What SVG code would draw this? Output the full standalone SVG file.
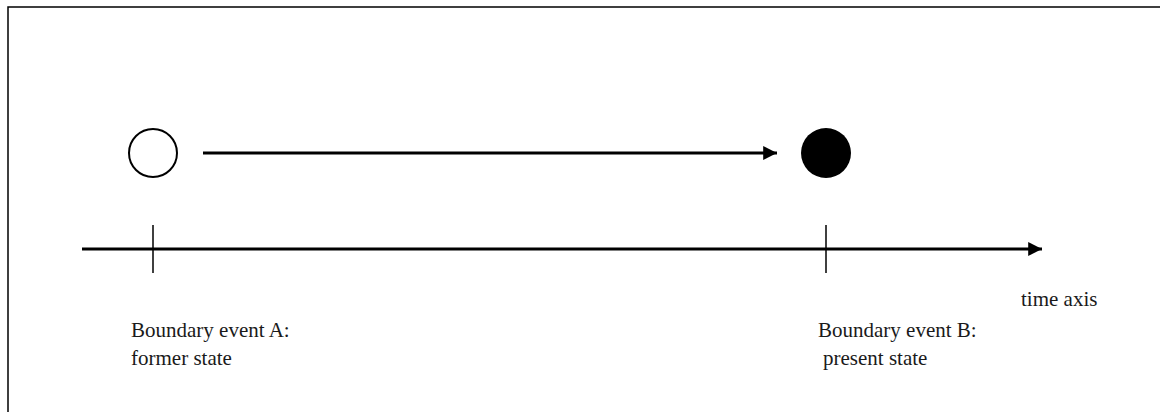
<svg xmlns="http://www.w3.org/2000/svg" width="1160" height="412" viewBox="0 0 1160 412">
  <style>
    .frame { fill: none; stroke: #000; stroke-width: 1.5; }
    .line { stroke: #000; stroke-width: 3; fill: none; }
    .tick { stroke: #000; stroke-width: 1.5; }
    .label { font-family: "Liberation Serif", "Times New Roman", serif; font-size: 21px; fill: #1a1a1a; }
  </style>
  <defs>
    <marker id="head" viewBox="0 0 10 10" refX="10" refY="5" markerWidth="5.4" markerHeight="4.6" markerUnits="strokeWidth" orient="auto">
      <path d="M0,0 L10,5 L0,10 Z" fill="#000"/>
    </marker>
  </defs>
  <rect width="1160" height="412" fill="#fff"/>
  <!-- outer frame (right and bottom edges fall outside the canvas) -->
  <rect class="frame" x="8" y="7" width="1160" height="420"/>

  <g id="connectors">
    <line id="transition" class="line" x1="203" y1="153" x2="777" y2="153" marker-end="url(#head)"/>
    <line id="time-axis" class="line" x1="82" y1="249" x2="1042" y2="249" marker-end="url(#head)"/>
    <line id="tick-a" class="tick" x1="153" y1="225" x2="153" y2="273"/>
    <line id="tick-b" class="tick" x1="826" y1="225" x2="826" y2="273"/>
  </g>

  <g id="state-former">
    <circle cx="153" cy="153" r="24" fill="#fff" stroke="#000" stroke-width="2"/>
  </g>
  <g id="state-present">
    <circle cx="826" cy="153" r="25" fill="#000"/>
  </g>

  <g id="event-a">
    <text class="label" x="131" y="337">Boundary event A:</text>
    <text class="label" x="131" y="365">former state</text>
  </g>
  <g id="event-b">
    <text class="label" x="818" y="337">Boundary event B:</text>
    <text class="label" x="823" y="365">present state</text>
  </g>
  <g id="axis-label">
    <text class="label" x="1021" y="306">time axis</text>
  </g>
</svg>
